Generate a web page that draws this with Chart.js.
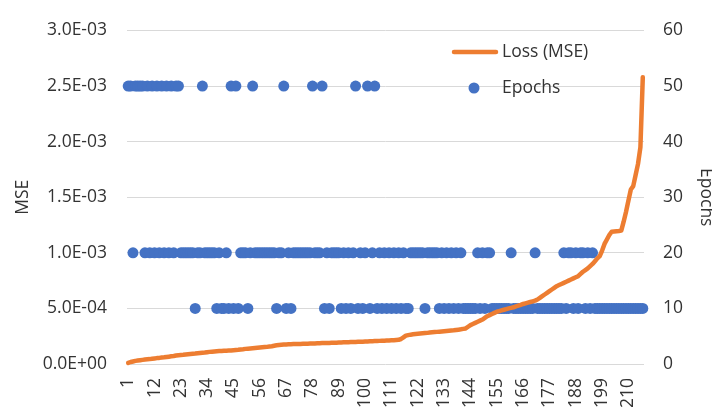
<!DOCTYPE html>
<html><head><meta charset="utf-8">
<script src="https://cdn.jsdelivr.net/npm/chart.js@4.4.1/dist/chart.umd.min.js"></script>
<style>html,body{margin:0;padding:0;background:#fff;}#wrap{width:712px;height:407px;}</style>
</head><body>
<div id="wrap"><canvas id="c" width="712" height="407"></canvas></div>
<script>
// Loss (MSE) per sample, sorted ascending
const lossMSE = [
1.0e-5,1.8e-5,2.3e-5,2.8e-5,3.1e-5,3.4e-5,3.7e-5,4.0e-5,4.2e-5,4.4e-5,
4.7e-5,5.0e-5,5.3e-5,5.5e-5,5.8e-5,6.0e-5,6.3e-5,6.6e-5,6.9e-5,7.2e-5,
7.6e-5,7.9e-5,8.1e-5,8.3e-5,8.6e-5,8.8e-5,9.0e-5,9.2e-5,9.4e-5,9.7e-5,
9.9e-5,10.1e-5,10.3e-5,10.6e-5,10.9e-5,11.1e-5,11.3e-5,11.5e-5,11.6e-5,11.7e-5,
11.9e-5,12.0e-5,12.1e-5,12.2e-5,12.4e-5,12.6e-5,12.8e-5,13.1e-5,13.3e-5,13.6e-5,
13.8e-5,14.0e-5,14.2e-5,14.4e-5,14.6e-5,14.8e-5,15.0e-5,15.2e-5,15.4e-5,15.7e-5,
16.0e-5,16.4e-5,16.8e-5,17.1e-5,17.3e-5,17.5e-5,17.6e-5,17.7e-5,17.8e-5,17.9e-5,
18.0e-5,18.0e-5,18.1e-5,18.2e-5,18.2e-5,18.3e-5,18.4e-5,18.5e-5,18.5e-5,18.6e-5,
18.7e-5,18.8e-5,18.8e-5,18.9e-5,19.0e-5,19.1e-5,19.2e-5,19.2e-5,19.3e-5,19.4e-5,
19.5e-5,19.6e-5,19.6e-5,19.7e-5,19.8e-5,19.9e-5,20.0e-5,20.1e-5,20.1e-5,20.2e-5,
20.3e-5,20.4e-5,20.5e-5,20.6e-5,20.7e-5,20.8e-5,20.9e-5,21.0e-5,21.1e-5,21.2e-5,
21.3e-5,21.4e-5,21.6e-5,21.8e-5,22.5e-5,24.0e-5,25.5e-5,26.0e-5,26.4e-5,26.7e-5,
27.0e-5,27.2e-5,27.4e-5,27.6e-5,27.8e-5,28.0e-5,28.3e-5,28.5e-5,28.7e-5,28.9e-5,
29.1e-5,29.3e-5,29.5e-5,29.7e-5,29.9e-5,30.1e-5,30.3e-5,30.6e-5,30.9e-5,31.2e-5,
31.6e-5,32.0e-5,33.5e-5,35.0e-5,36.0e-5,37.0e-5,38.0e-5,39.0e-5,40.0e-5,41.5e-5,
43.0e-5,44.0e-5,45.0e-5,46.0e-5,47.0e-5,47.6e-5,48.2e-5,48.8e-5,49.4e-5,50.0e-5,
50.5e-5,51.0e-5,51.8e-5,52.5e-5,53.2e-5,54.0e-5,54.6e-5,55.2e-5,55.8e-5,56.4e-5,
57.0e-5,58.0e-5,59.5e-5,61.0e-5,62.5e-5,64.0e-5,65.5e-5,67.0e-5,68.5e-5,70.0e-5,
71.0e-5,72.0e-5,73.0e-5,74.0e-5,75.0e-5,76.0e-5,77.0e-5,78.0e-5,79.0e-5,81.0e-5,
83.0e-5,84.5e-5,86.0e-5,88.0e-5,90.0e-5,92.5e-5,95.0e-5,97.0e-5,102.0e-5,108.0e-5,
112.0e-5,116.0e-5,119.0e-5,119.2e-5,119.4e-5,119.6e-5,120.0e-5,128.0e-5,137.0e-5,147.0e-5,
157.0e-5,160.0e-5,170.0e-5,180.0e-5,195.0e-5,258.0e-5
];

// Epochs per sample
const epochs = [
50,50,20,50,50,50,50,20,50,20,
50,20,50,20,50,20,50,20,50,20,
50,50,20,20,20,20,20,20,10,20,
20,50,20,20,20,20,20,10,20,10,
10,20,10,50,10,50,10,20,20,20,
10,20,50,20,20,20,20,20,20,20,
20,20,10,20,20,50,10,20,10,20,
20,20,20,20,20,20,20,50,20,20,
20,50,10,20,10,20,20,20,20,10,
20,10,20,10,20,50,10,20,10,20,
50,10,20,50,10,20,10,20,10,20,
10,20,10,20,10,20,10,10,20,20,
20,20,20,20,10,20,20,20,20,20,
10,20,10,20,10,20,10,20,10,20,
10,10,10,10,10,10,20,10,20,10,
20,20,10,10,10,10,10,10,10,10,
20,10,10,10,10,10,10,10,10,10,
20,10,10,10,10,10,10,10,10,10,
10,10,20,10,20,20,10,20,10,20,
20,10,20,10,20,10,10,10,10,10,
10,10,10,10,10,10,10,10,10,10,
10,10,10,10,10,10
];

const categories = lossMSE.map((_, i) => String(i + 1));
const xTickLabels = ['1','12','23','34','45','56','67','78','89','100','111','122','133','144','155','166','177','188','199','210'];
const mseAxis = {min: 0, max: 0.003, step: 0.0005};
const epochAxis = {min: 0, max: 60, step: 10};

const FONT = "'Open Sans', sans-serif";
const TXT = '#333333';
const ORANGE = '#ED7D31';
const BLUE = '#4472C4';
const GRID = '#d9d9d9';

function fmtE(v) {
  if (Math.abs(v) < 1e-12) v = 0;
  const parts = v.toExponential(1).split('e');
  const n = parseInt(parts[1], 10);
  return parts[0] + 'E' + (n < 0 ? '-' : '+') + String(Math.abs(n)).padStart(2, '0');
}

const legendPlugin = {
  id: 'insideLegend',
  afterDraw(chart) {
    const ctx = chart.ctx;
    const ds = chart.data.datasets;
    ctx.save();
    ctx.strokeStyle = ds[0].borderColor;
    ctx.lineWidth = ds[0].borderWidth;
    ctx.lineCap = 'round';
    ctx.beginPath(); ctx.moveTo(454, 52); ctx.lineTo(496, 52); ctx.stroke();
    ctx.fillStyle = ds[1].backgroundColor;
    ctx.beginPath(); ctx.arc(474, 88, ds[1].pointRadius, 0, Math.PI * 2); ctx.fill();
    ctx.fillStyle = TXT;
    ctx.font = "17.5px " + FONT;
    ctx.textBaseline = 'middle';
    ctx.textAlign = 'left';
    ctx.fillText(ds[0].label, 502, 52);
    ctx.fillText(ds[1].label, 502, 88);
    ctx.restore();
  }
};

new Chart(document.getElementById('c'), {
  type: 'line',
  data: {
    labels: categories,
    datasets: [
      {
        label: 'Loss (MSE)', data: lossMSE, yAxisID: 'y', order: 0,
        borderColor: ORANGE, backgroundColor: ORANGE, borderWidth: 4.5,
        pointRadius: 0, tension: 0, borderCapStyle: 'round', borderJoinStyle: 'round', clip: false
      },
      {
        label: 'Epochs', data: epochs, yAxisID: 'y2', order: 1,
        showLine: false, pointRadius: 5.5, pointStyle: 'circle',
        backgroundColor: BLUE, pointBackgroundColor: BLUE, borderColor: BLUE, pointBorderWidth: 0, borderWidth: 0,
        clip: false
      }
    ]
  },
  options: {
    responsive: false,
    animation: false,
    layout: {padding: {top: 19, left: 0, right: 0, bottom: 0}},
    plugins: {legend: {display: false}, tooltip: {enabled: false}},
    scales: {
      x: {
        type: 'category', offset: true,
        grid: {display: false, drawTicks: false},
        border: {display: false},
        ticks: {
          autoSkip: false, minRotation: 90, maxRotation: 90, padding: 14,
          color: TXT, font: {family: FONT, size: 17.5},
          callback: function(v, i) { return xTickLabels.includes(categories[i]) ? categories[i] : null; }
        },
        afterFit: s => { s.height = 43; }
      },
      y: {
        position: 'left', min: mseAxis.min, max: mseAxis.max,
        ticks: {stepSize: mseAxis.step, padding: 20, color: TXT, font: {family: FONT, size: 17.5}, callback: v => fmtE(v)},
        grid: {color: GRID, lineWidth: 1, drawTicks: false},
        border: {display: false},
        title: {display: true, text: 'MSE', color: TXT, font: {family: FONT, size: 17.5}, padding: {top: 13, bottom: 0}},
        afterFit: s => { s.width = 127; }
      },
      y2: {
        position: 'right', min: epochAxis.min, max: epochAxis.max,
        ticks: {stepSize: epochAxis.step, padding: 19, color: TXT, font: {family: FONT, size: 17.5}},
        grid: {display: false, drawTicks: false},
        border: {display: false},
        title: {display: true, text: 'Epochs', color: TXT, font: {family: FONT, size: 17.5}, padding: {top: -4, bottom: 0}},
        afterFit: s => { s.width = 68; }
      }
    }
  },
  plugins: [legendPlugin]
});
</script>
</body></html>
